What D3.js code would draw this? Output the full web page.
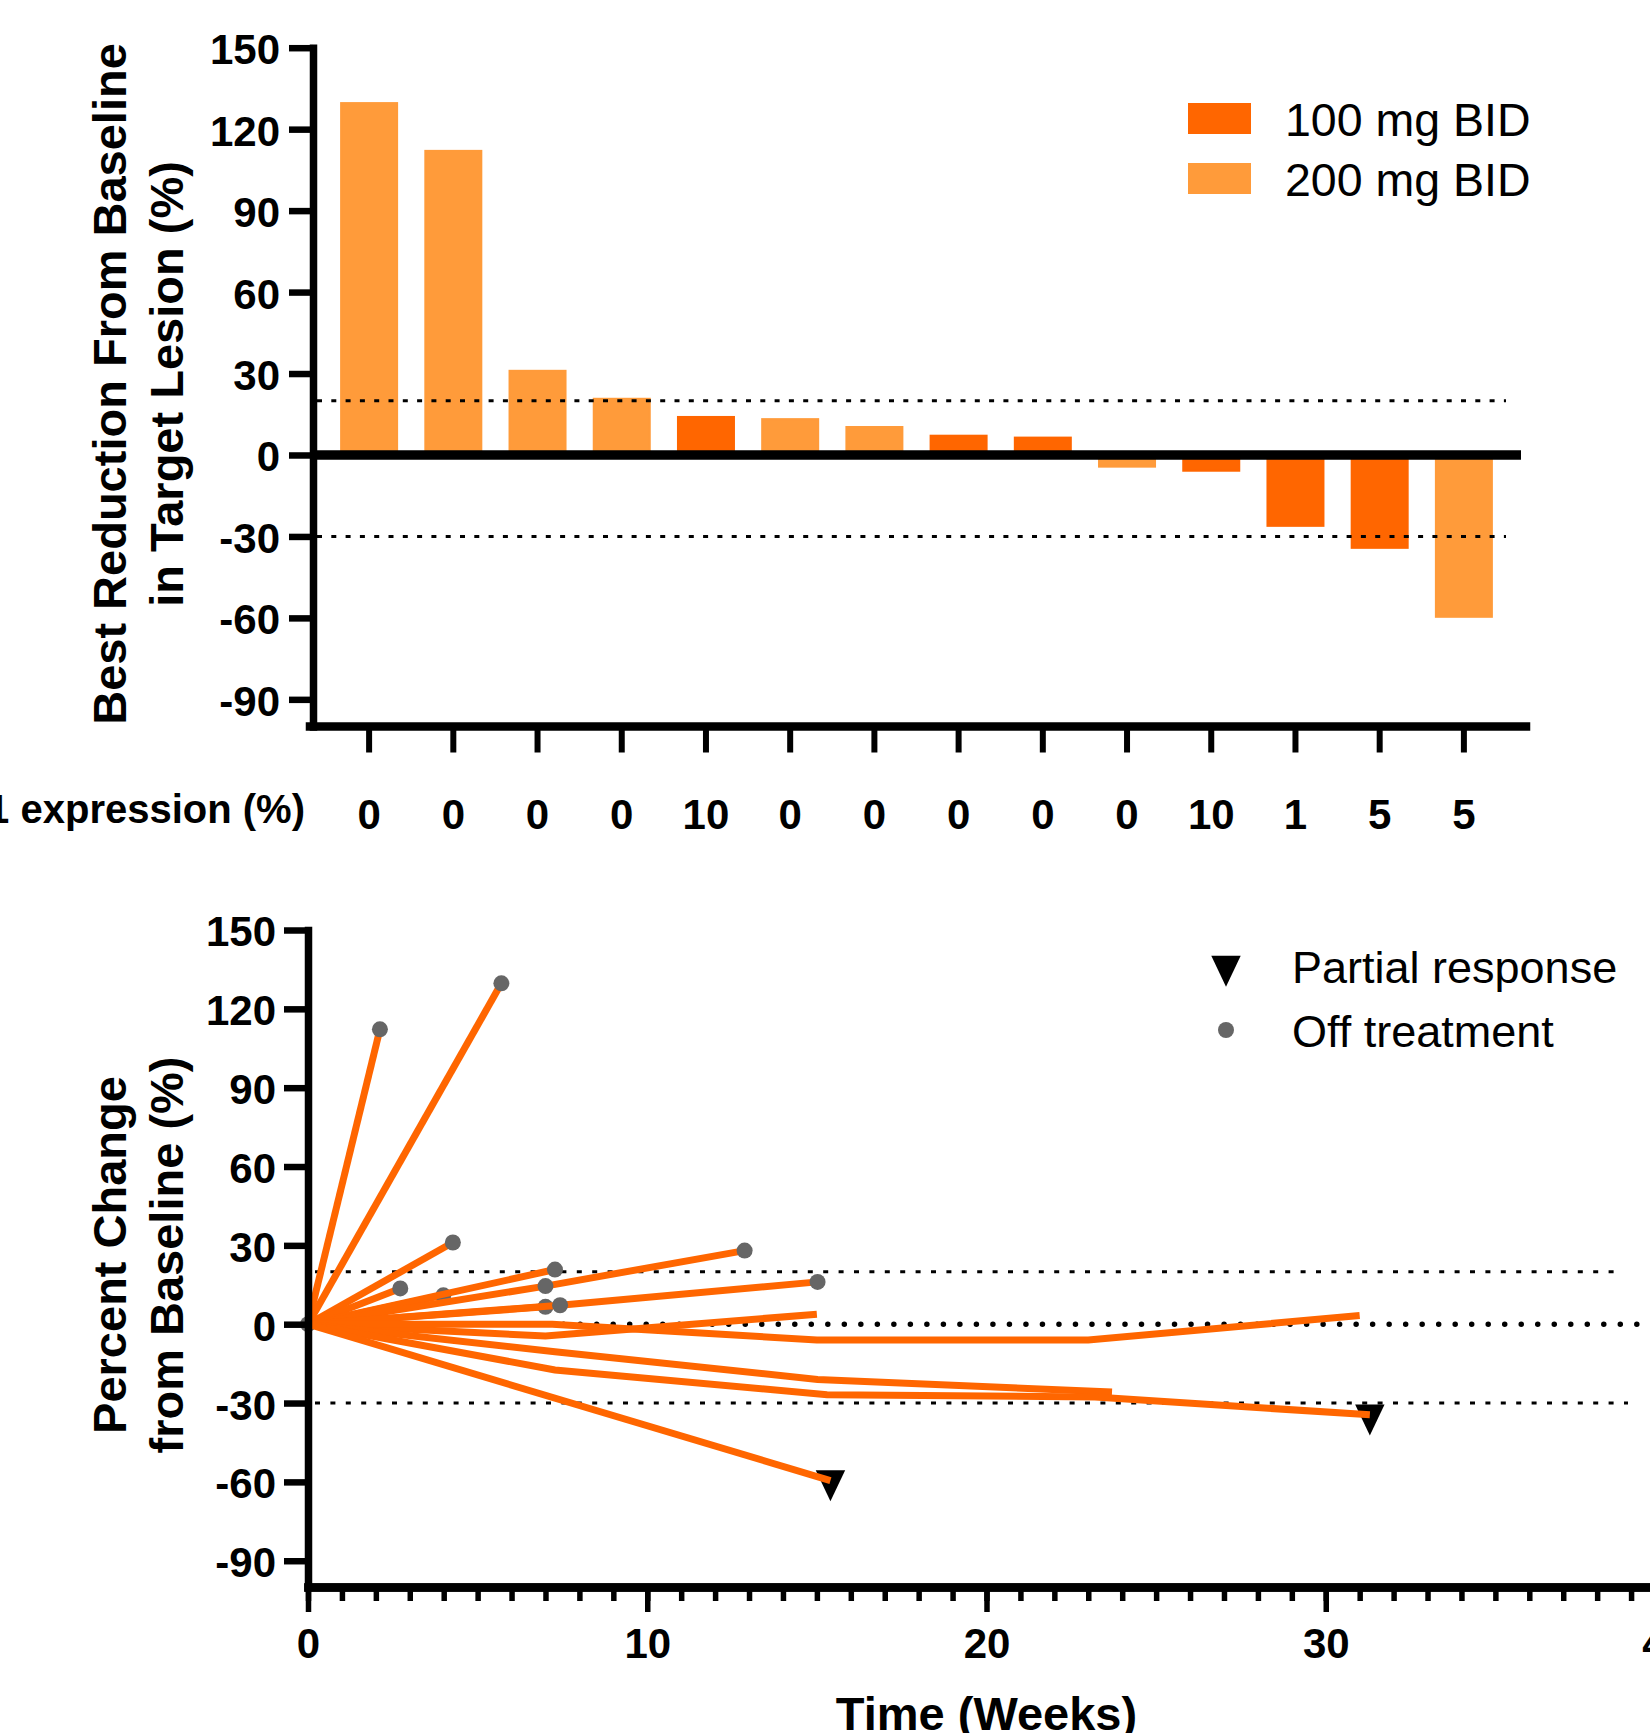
<!DOCTYPE html>
<html lang="en">
<head>
    <meta charset="UTF-8">
    <title>Waterfall and spider plot</title>
    <script src="https://d3js.org/d3.v7.min.js"></script>
    <style>
        body { margin: 0; background: #fff; }
        svg { display: block; font-family: "Liberation Sans", Arial, sans-serif; }
        .tick text { font-family: "Liberation Sans", Arial, sans-serif; font-size: 42px; font-weight: bold; }
        .title { font-size: 47px; font-weight: bold; }
        .legend text { font-size: 46px; }
    </style>
</head>
<body>
<svg width="1650" height="1733"></svg>
<script>

    // waterfall data, one bar per patient
    var bestChange = [129.6, 112, 31, 20.7, 14, 13.2, 10.3, 7.1, 6.4, -4.3, -5.8, -26.1, -34.2, -59.6];
    var dose = ["200 mg BID", "200 mg BID", "200 mg BID", "200 mg BID", "100 mg BID", "200 mg BID", "200 mg BID",
                "100 mg BID", "100 mg BID", "200 mg BID", "100 mg BID", "100 mg BID", "100 mg BID", "200 mg BID"];
    var pdl1 = [0, 0, 0, 0, 10, 0, 0, 0, 0, 0, 10, 1, 5, 5];
    var doses = ["100 mg BID", "200 mg BID"];
    var pctTicks = [-90, -60, -30, 0, 30, 60, 90, 120, 150];
    var weekTicks = [0, 10, 20, 30, 40];
    var cutoffs = [20, -30];

    // spider data: weeks and % change for each patient
    var spiderWeeks = [
        [0, 2.12], [0, 5.7], [0, 4.27], [0, 2.72], [0, 3.99], [0, 7.28],
        [0, 7.0, 12.87], [0, 7.0], [0, 7.43, 15.02], [0, 7.0, 15.0],
        [0, 7.2, 15.0, 23.0, 31.0], [0, 7.28, 15.02, 23.7],
        [0, 7.28, 15.3, 23.2, 31.3], [0, 15.4]
    ];
    var spiderPct = [
        [0, 112.2], [0, 129.7], [0, 31.1], [0, 13.6], [0, 11.0], [0, 20.8],
        [0, 14.5, 28.0], [0, 6.6], [0, 7.2, 16.1], [0, -4.5, 3.8],
        [0, 0, -6, -6, 3.3], [0, -10.5, -21, -25.8],
        [0, -17.4, -26.8, -27.7, -34.5], [0, -59.5]
    ];
    // which points carry a symbol
    var offIdx = [[0, 1], [1], [1], [1], [1], [1], [1, 2], [1], [1, 2], [], [], [], [], []];
    var prIdx = [[], [], [], [], [], [], [], [], [], [], [], [], [4], [1]];
    var markerLabels = ["Partial response", "Off treatment"];

    var svg = d3.select("svg");
    var color = d3.scaleOrdinal().domain(doses).range(["#ff6600", "#ff9b3a"]);
    var plain = function(d) { return String(d); };   // keep ASCII hyphen for negatives

    function styleAxis(g, w) {
        g.select(".domain").attr("stroke-width", w).attr("stroke-linecap", "square");
        g.selectAll(".tick line").attr("stroke-width", w - 1);
        g.selectAll(".tick text").attr("fill", "#000");
    }

    // ---------- top panel ----------
    var x = d3.scaleBand()
              .domain(d3.range(bestChange.length))
              .range([327, 1506])
              .paddingInner(0.335)
              .paddingOuter(0.1675);
    var y = d3.scaleLinear().domain([-100, 150]).range([726.5, 47.7]);
    var top0 = 313;

    svg.append("g").selectAll("rect")
       .data(bestChange)
       .enter().append("rect")
       .attr("x", function(d, i) { return x(i); })
       .attr("width", x.bandwidth())
       .attr("y", function(d) { return y(Math.max(0, d)); })
       .attr("height", function(d) { return Math.abs(y(d) - y(0)); })
       .attr("fill", function(d, i) { return color(dose[i]); })
       .attr("stroke", function(d, i) { return color(dose[i]); })
       .attr("stroke-width", 2);

    // +20 / -30 lines
    svg.append("g").selectAll("line")
       .data(cutoffs)
       .enter().append("line")
       .attr("x1", top0 + 4).attr("x2", 1506)
       .attr("y1", function(d) { return y(d); })
       .attr("y2", function(d) { return y(d); })
       .attr("stroke", "#000").attr("stroke-width", 3)
       .attr("stroke-dasharray", "5,9.3");

    // zero line
    svg.append("line")
       .attr("x1", top0).attr("x2", 1521)
       .attr("y1", y(0)).attr("y2", y(0))
       .attr("stroke", "#000").attr("stroke-width", 9.3);

    var yAxisTop = svg.append("g")
       .attr("transform", "translate(" + top0 + ",0)")
       .call(d3.axisLeft(y).tickValues(pctTicks).tickFormat(plain)
               .tickSize(24).tickSizeOuter(0).tickPadding(9));
    styleAxis(yAxisTop, 7.5);
    yAxisTop.selectAll(".tick text").attr("dy", "0.38em");

    var xAxisTop = svg.append("g")
       .attr("transform", "translate(0," + y(-100) + ")")
       .call(d3.axisBottom(x).tickFormat(function(i) { return pdl1[i]; })
               .tickSize(26).tickSizeOuter(0).tickPadding(47));
    styleAxis(xAxisTop, 8.5);
    xAxisTop.select(".domain").attr("d", "M" + (top0 - 3) + ",0H" + (x.range()[1] + 20));
    xAxisTop.selectAll(".tick line").attr("stroke-width", 6);

    svg.append("text")
       .attr("x", 305).attr("y", 823)
       .attr("text-anchor", "end")
       .style("font-size", "40px").style("font-weight", "bold")
       .text("PD-L1 expression (%)");

    var titleTop = svg.append("text")
       .attr("class", "title")
       .attr("transform", "translate(0,384) rotate(-90)")
       .attr("text-anchor", "middle");
    titleTop.append("tspan").attr("x", 0).attr("y", 126).text("Best Reduction From Baseline");
    titleTop.append("tspan").attr("x", 0).attr("y", 183).text("in Target Lesion (%)");

    var legTop = svg.append("g").attr("class", "legend")
       .selectAll("g").data(doses).enter().append("g")
       .attr("transform", function(d, i) { return "translate(1188," + (103 + i * 60) + ")"; });
    legTop.append("rect")
       .attr("width", 63).attr("height", 31)
       .attr("fill", function(d) { return color(d); });
    legTop.append("text")
       .attr("x", 97).attr("y", 33)
       .style("font-size", "46.5px")
       .text(function(d) { return d; });

    // ---------- bottom panel ----------
    var xw = d3.scaleLinear().domain([0, 40]).range([308, 1665]);
    var yp = d3.scaleLinear().domain([-100, 150]).range([1587, 930]);

    svg.append("g").selectAll("line")
       .data(cutoffs)
       .enter().append("line")
       .attr("x1", xw(0) + 7).attr("x2", function(d) { return d > 0 ? 1622 : 1628; })
       .attr("y1", function(d) { return yp(d); })
       .attr("y2", function(d) { return yp(d); })
       .attr("stroke", "#000").attr("stroke-width", 3)
       .attr("stroke-dasharray", "5,10.4");

    svg.append("line")
       .attr("x1", xw(0) + 8).attr("x2", 1650)
       .attr("y1", yp(0)).attr("y2", yp(0))
       .attr("stroke", "#000").attr("stroke-width", 5.5)
       .attr("stroke-linecap", "round")
       .attr("stroke-dasharray", "0.01,16.5");

    var line = d3.line()
       .x(function(d) { return xw(d[0]); })
       .y(function(d) { return yp(d[1]); });

    var tri = d3.symbol().type(d3.symbolTriangle).size(340);

    spiderWeeks.forEach(function(weeks, s) {
        var pts = weeks.map(function(w, j) { return [w, spiderPct[s][j]]; });
        var g = svg.append("g");
        g.selectAll("path.pr")
         .data(prIdx[s].map(function(j) { return pts[j]; }))
         .enter().append("path")
         .attr("class", "pr")
         .attr("d", tri)
         .attr("transform", function(d) { return "translate(" + xw(d[0]) + "," + yp(d[1]) + ") rotate(180) scale(1.05,1.28)"; })
         .attr("fill", "#000");
        g.append("path")
         .datum(pts)
         .attr("d", line)
         .attr("fill", "none")
         .attr("stroke", "#ff6600")
         .attr("stroke-width", 7)
         .attr("stroke-linejoin", "miter");
        g.selectAll("circle")
         .data(offIdx[s].map(function(j) { return pts[j]; }))
         .enter().append("circle")
         .attr("cx", function(d) { return xw(d[0]); })
         .attr("cy", function(d) { return yp(d[1]); })
         .attr("r", 8)
         .attr("fill", "#666");
    });

    var yAxisBot = svg.append("g")
       .attr("transform", "translate(" + xw(0) + ",0)")
       .call(d3.axisLeft(yp).tickValues(pctTicks).tickFormat(plain)
               .tickSize(24).tickSizeOuter(0).tickPadding(8));
    styleAxis(yAxisBot, 7.5);
    yAxisBot.selectAll(".tick text").attr("dy", "0.38em");

    var minorAxis = svg.append("g")
       .attr("transform", "translate(0," + yp(-100) + ")")
       .call(d3.axisBottom(xw).tickValues(d3.range(0, 41)).tickFormat("").tickSize(14).tickSizeOuter(0));
    styleAxis(minorAxis, 8.5);
    minorAxis.selectAll(".tick line").attr("stroke-width", 5.5);

    var xAxisBot = svg.append("g")
       .attr("transform", "translate(0," + yp(-100) + ")")
       .call(d3.axisBottom(xw).tickValues(weekTicks).tickFormat(plain)
               .tickSize(25).tickSizeOuter(0).tickPadding(16));
    styleAxis(xAxisBot, 8.5);
    xAxisBot.selectAll(".tick line").attr("stroke-width", 5.5);

    svg.append("text")
       .attr("class", "title")
       .attr("x", (xw(0) + xw(40)) / 2).attr("y", 1730)
       .attr("text-anchor", "middle")
       .text("Time (Weeks)");

    var titleBot = svg.append("text")
       .attr("class", "title")
       .attr("transform", "translate(0,1255) rotate(-90)")
       .attr("text-anchor", "middle");
    titleBot.append("tspan").attr("x", 0).attr("y", 126).text("Percent Change");
    titleBot.append("tspan").attr("x", 0).attr("y", 183).text("from Baseline (%)");

    var legBot = svg.append("g").attr("class", "legend")
       .selectAll("g").data(markerLabels).enter().append("g")
       .attr("transform", function(d, i) { return "translate(1226," + (966 + i * 64) + ")"; });
    legBot.filter(function(d, i) { return i === 0; }).append("path")
       .attr("d", tri)
       .attr("transform", "rotate(180) scale(1.05,1.28)")
       .attr("fill", "#000");
    legBot.filter(function(d, i) { return i === 1; }).append("circle")
       .attr("r", 8).attr("fill", "#666");
    legBot.append("text")
       .attr("x", 66).attr("y", 17)
       .style("font-size", "45px")
       .text(function(d) { return d; });

</script>
</body>
</html>
